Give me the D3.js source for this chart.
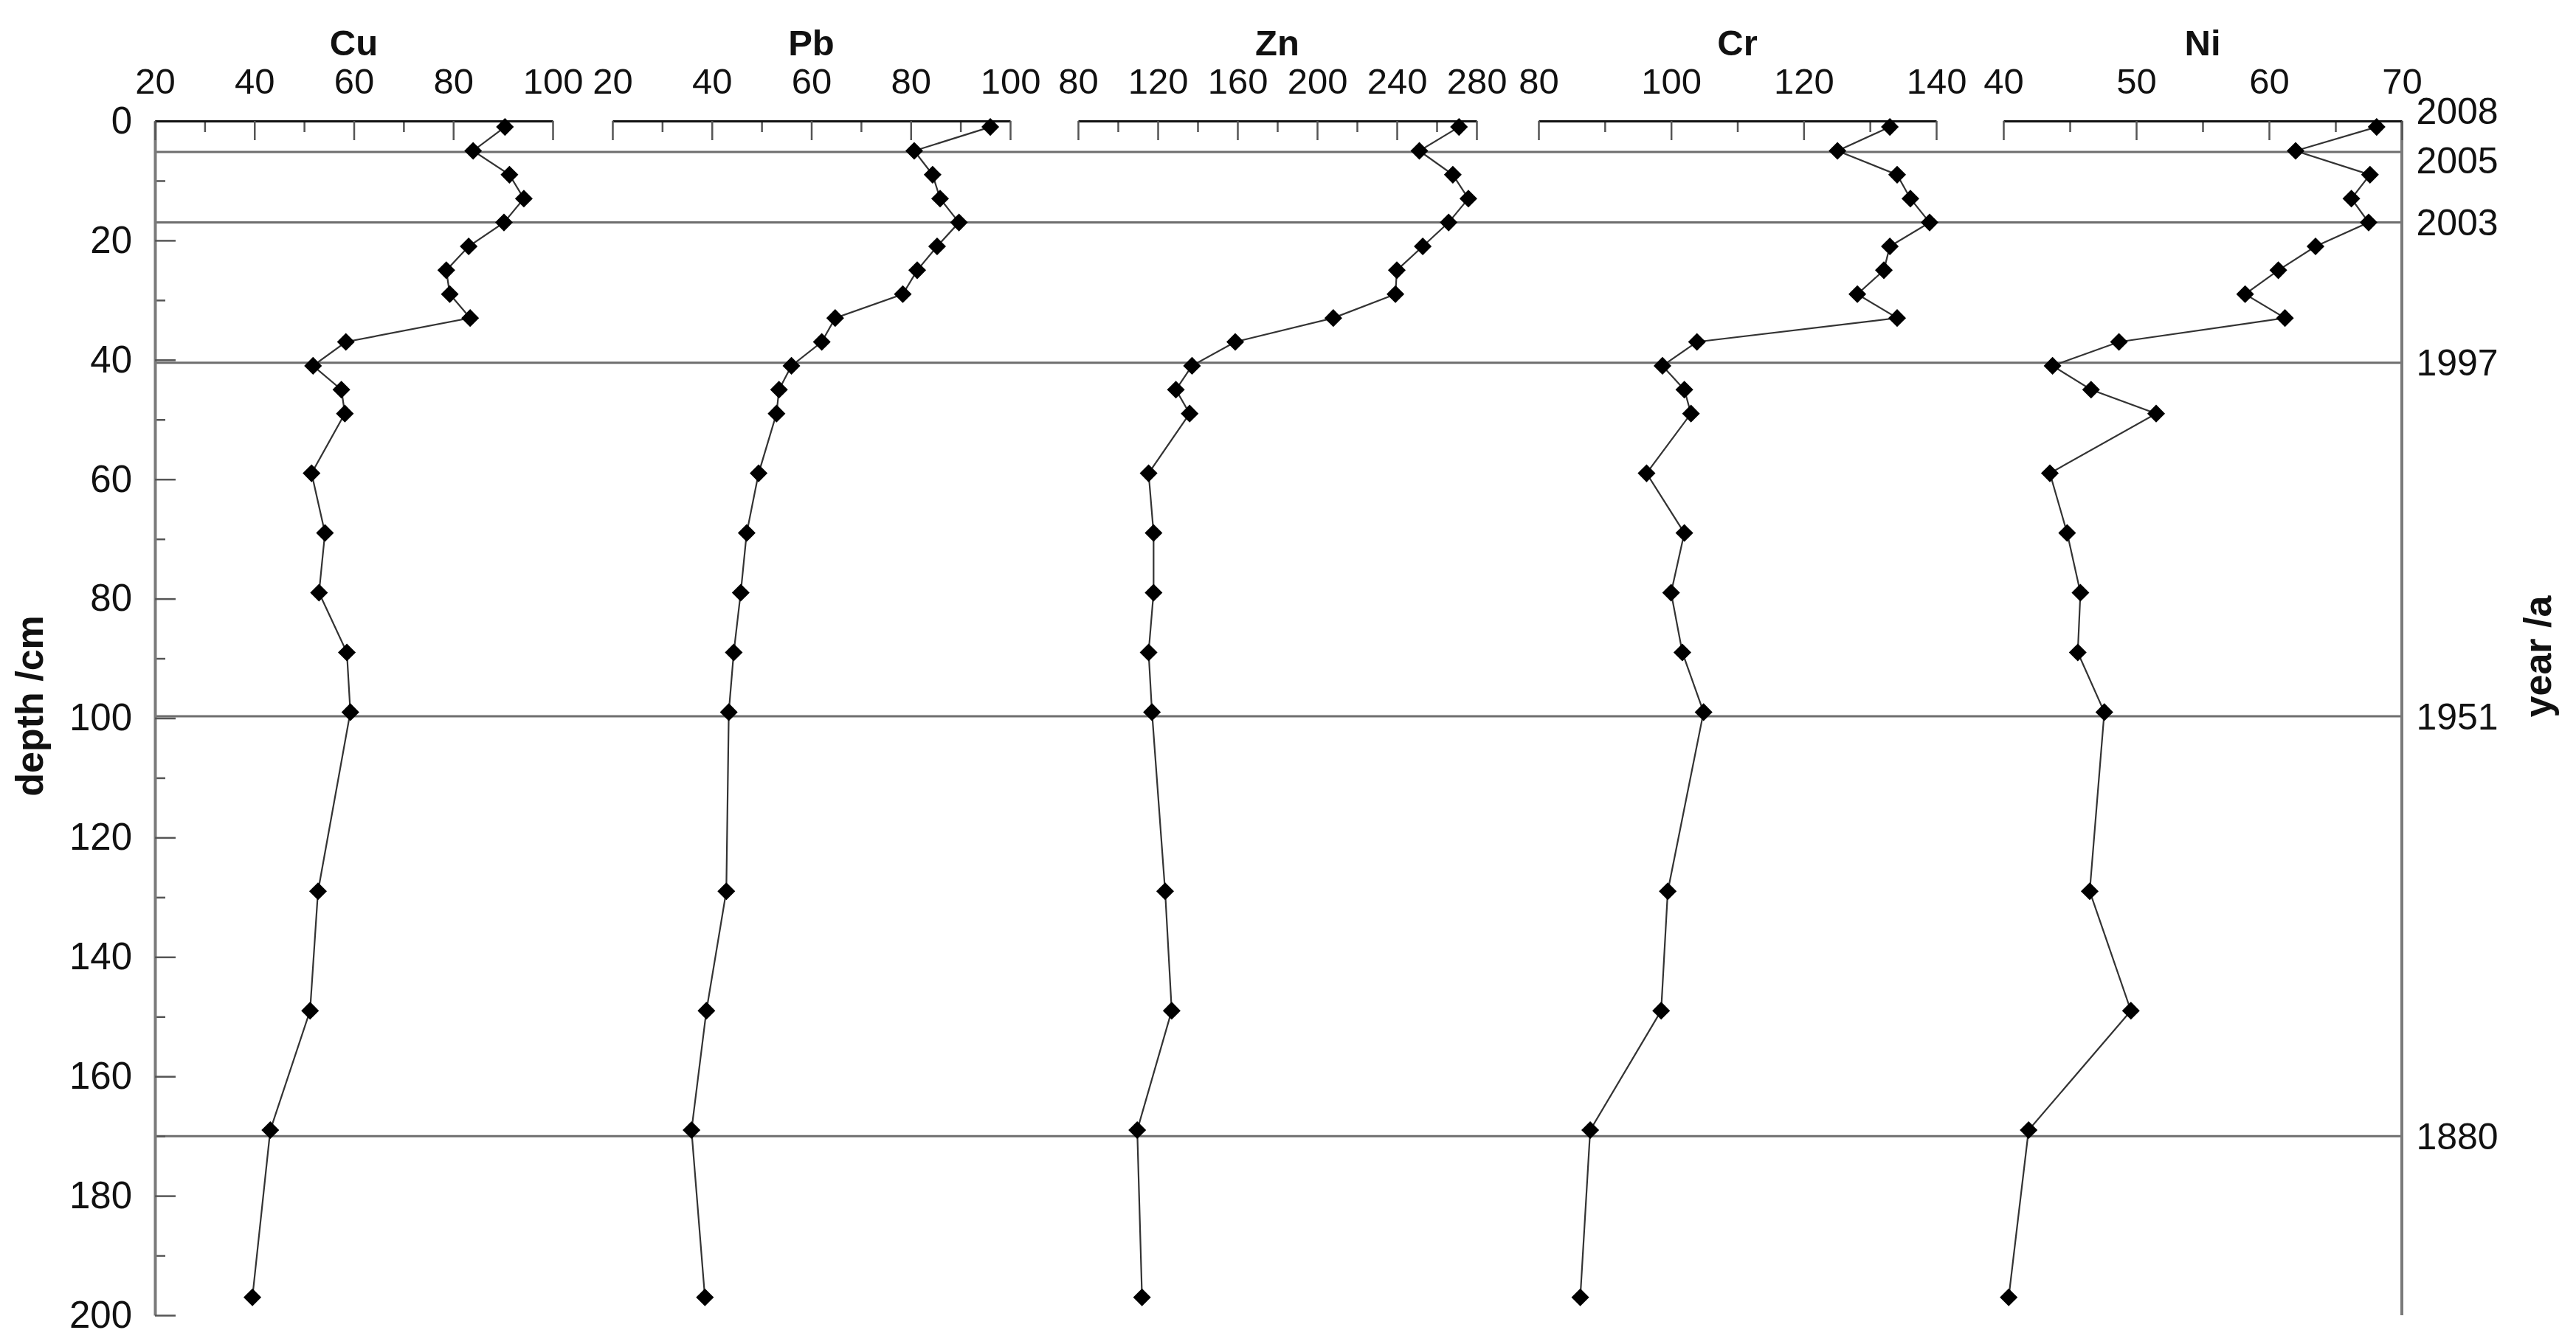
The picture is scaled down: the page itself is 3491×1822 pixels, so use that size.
<!DOCTYPE html>
<html>
<head>
<meta charset="utf-8">
<script src="https://cdn.jsdelivr.net/npm/d3@7"></script>
<style>
body { margin: 0; background: #fff; }
text { font-family: "Liberation Sans", Arial, sans-serif; }
</style>
</head>
<body>
<svg width="3491" height="1822"></svg>
<script>
// sample depths (cm) and concentrations
var depth = [1,5,9,13,17,21,25,29,33,37,41,45,49,59,69,79,89,99,129,149,169,197]
var cu = [90.4,84.0,91.3,94.2,90.2,83.1,78.6,79.3,83.4,58.4,51.8,57.5,58.2,51.5,54.2,53.0,58.6,59.3,52.8,51.2,43.2,39.6]
var pb = [96.0,80.7,84.4,85.9,89.7,85.3,81.3,78.4,64.8,62.1,56.0,53.5,53.0,49.4,47.0,45.8,44.4,43.4,42.9,38.9,35.9,38.6]
var zn = [271.2,251.3,268.1,275.9,266.0,253.0,240.0,239.3,208.1,158.9,137.2,129.1,136.0,115.4,117.9,117.9,115.4,117.1,123.7,127.0,109.7,112.1]
var cr = [133.0,125.1,134.1,136.1,139.0,133.0,132.1,128.1,134.1,103.9,98.7,102.0,103.0,96.3,102.0,100.0,101.7,104.9,99.5,98.5,87.8,86.3]
var ni = [68.1,62.0,67.6,66.2,67.5,63.5,60.7,58.2,61.2,48.7,43.7,46.6,51.5,43.5,44.8,45.8,45.6,47.6,46.5,49.6,41.9,40.4]

var elements = ['Cu','Pb','Zn','Cr','Ni']
var series = [cu, pb, zn, cr, ni]
var domains = [[20,100],[20,100],[80,280],[80,140],[40,70]]
var majorTicks = [[20,40,60,80,100],[20,40,60,80,100],[80,120,160,200,240,280],[80,100,120,140],[40,50,60,70]]
var minorTicks = [[30,50,70,90],[30,50,70,90],[100,140,180,220,260],[90,110,130],[45,55,65]]

var depthMajor = [0,20,40,60,80,100,120,140,160,180,200]
var depthMinor = [10,30,50,70,90,110,130,150,170,190]

var years = ['2008','2005','2003','1997','1951','1880']
var yearDepth = [null,5.2,17,40.5,99.7,170]
var yearLabelDepth = [-1.7,6.6,17,40.5,99.7,170]

var svg = d3.select('svg')
var font = '"Liberation Sans", Arial, sans-serif'
var top0 = 164, bottom0 = 1783
var left0 = 210, right0 = 3255
var panelX = [[210,749],[830,1369],[1461,2001],[2085,2624],[2715,3255]]

var y = d3.scaleLinear().domain([0,200]).range([top0,bottom0])

svg.append('rect').attr('width',3491).attr('height',1822).attr('fill','#fff')

// year marker lines
years.forEach(function(yr, i) {
    if(yearDepth[i] !== null)
	svg.append('line')
	    .attr('x1', left0).attr('x2', right0)
	    .attr('y1', y(yearDepth[i])).attr('y2', y(yearDepth[i]))
	    .attr('stroke', '#6e6e6e')
	    .attr('stroke-width', 3)
    svg.append('text')
	.attr('x', 3330)
	.attr('y', y(yearLabelDepth[i]))
	.attr('dy', '0.35em')
	.attr('text-anchor', 'middle')
	.attr('font-size', 50)
	.attr('fill', '#111')
	.text(yr)
})

// left depth axis
function styleAxis(g, size) {
    g.attr('font-size', size).attr('font-family', font)
    g.selectAll('.tick line').attr('stroke', '#555').attr('stroke-width', 2.5)
    g.selectAll('.tick text').attr('fill', '#111')
}
var gMinor = svg.append('g').attr('transform', 'translate(' + left0 + ',0)')
    .call(d3.axisLeft(y).tickValues(depthMinor).tickSize(-14).tickFormat(''))
gMinor.select('.domain').remove()
styleAxis(gMinor, 50)
var gLeft = svg.append('g').attr('transform', 'translate(' + left0 + ',0)')
    .call(d3.axisLeft(y).tickValues(depthMajor).tickSize(-28).tickSizeOuter(0).tickPadding(31))
gLeft.select('.domain').attr('stroke', '#7a7a7a').attr('stroke-width', 4)
styleAxis(gLeft, 51)

// right year axis line
svg.append('line')
    .attr('x1', right0).attr('x2', right0)
    .attr('y1', top0).attr('y2', bottom0)
    .attr('stroke', '#7a7a7a')
    .attr('stroke-width', 4)

// panels
var lineFunc = d3.line()
elements.forEach(function(el, i) {
    var x = d3.scaleLinear().domain(domains[i]).range(panelX[i])
    var gm = svg.append('g').attr('transform', 'translate(0,' + top0 + ')')
	.call(d3.axisTop(x).tickValues(minorTicks[i]).tickSize(-15).tickFormat(''))
    gm.select('.domain').remove()
    styleAxis(gm, 49)
    var ga = svg.append('g').attr('transform', 'translate(0,' + top0 + ')')
	.call(d3.axisTop(x).tickValues(majorTicks[i]).tickSize(-26).tickSizeOuter(0).tickPadding(37))
    ga.select('.domain').attr('stroke', '#111').attr('stroke-width', 3)
    styleAxis(ga, 49)

    svg.append('text')
	.attr('x', (panelX[i][0] + panelX[i][1]) / 2)
	.attr('y', 75)
	.attr('text-anchor', 'middle')
	.attr('font-size', 49)
	.attr('font-weight', 'bold')
	.attr('fill', '#111')
	.text(el)

    var pts = depth.map(function(d, j) { return [x(series[i][j]), y(d)] })
    svg.append('path')
	.attr('d', lineFunc(pts))
	.attr('fill', 'none')
	.attr('stroke', '#333')
	.attr('stroke-width', 2.2)
    svg.append('g').selectAll('path')
	.data(pts)
	.enter().append('path')
	.attr('d', d3.symbol().type(d3.symbolSquare).size(290))
	.attr('transform', function(p) { return 'translate(' + p[0] + ',' + p[1] + ') rotate(45)' })
	.attr('fill', '#000')
})

// axis titles
svg.append('text')
    .attr('transform', 'translate(58,957) rotate(-90)')
    .attr('text-anchor', 'middle')
    .attr('font-size', 52)
    .attr('font-weight', 'bold')
    .attr('fill', '#111')
    .text('depth /cm')
svg.append('text')
    .attr('transform', 'translate(3457,890) rotate(-90)')
    .attr('text-anchor', 'middle')
    .attr('font-size', 52)
    .attr('font-weight', 'bold')
    .attr('fill', '#111')
    .text('year /a')
</script>
</body>
</html>
